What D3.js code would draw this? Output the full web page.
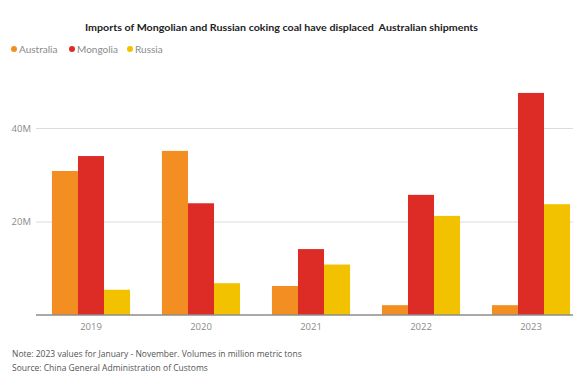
<!DOCTYPE html>
<html>
<head>
<meta charset="utf-8">
<script src="https://cdn.jsdelivr.net/npm/d3@7"></script>
<style>
  html, body { margin: 0; padding: 0; background: #fff; }
  svg { display: block; font-family: "Open Sans", sans-serif; }
</style>
</head>
<body>
<svg id="chart" width="573" height="374"></svg>
<script>
// Coking coal imports into China, million metric tons
const years = ["2019", "2020", "2021", "2022", "2023"];
const seriesNames = ["Australia", "Mongolia", "Russia"];
const australia = [30.8, 35.1, 6.2, 2.1, 2.1];
const mongolia = [34.0, 23.9, 14.1, 25.7, 47.5];
const russia = [5.4, 6.8, 10.8, 21.2, 23.7];
const yTicks = [20, 40];
const seriesColors = ["#f28e22", "#dd2c26", "#f2c100"];

const values = [australia, mongolia, russia];

const svg = d3.select("#chart");
const W = 573;

const x = d3.scaleBand()
  .domain(years)
  .range([36, 586])
  .paddingInner(0.29)
  .paddingOuter(0.145);

const xSub = d3.scaleBand()
  .domain(seriesNames)
  .range([0, x.bandwidth()]);

const y = d3.scaleLinear()
  .domain([0, 40])
  .range([315, 128]);

const color = d3.scaleOrdinal().domain(seriesNames).range(seriesColors);

// Title
const titleText = svg.append("text")
  .attr("x", 85)
  .attr("y", 31)
  .attr("font-family", "Lato, sans-serif")
  .attr("font-size", 10)
  .attr("font-weight", 700)
  .attr("fill", "#222")
  .attr("xml:space", "preserve")
  .text("Imports of Mongolian and Russian coking coal have displaced  Australian shipments");
titleText.attr("textLength", 393).attr("lengthAdjust", "spacingAndGlyphs");

// Legend
const legend = svg.append("g").attr("transform", "translate(0,49)");
const legendX = [14, 72, 130];
seriesNames.forEach((name, i) => {
  const g = legend.append("g").attr("transform", `translate(${legendX[i]},0)`);
  g.append("circle").attr("r", 3).attr("fill", color(name));
  g.append("text")
    .attr("x", 5)
    .attr("dy", "0.35em")
    .attr("font-family", "Lato, sans-serif")
    .attr("font-size", 10)
    .attr("fill", "#8a8a8a")
    .text(name);
});

// Gridlines and y labels
const yAxis = svg.append("g")
  .attr("transform", "translate(36,0)")
  .call(d3.axisRight(y).tickValues(yTicks).tickSize(W - 36).tickFormat(d => d + "M"));
yAxis.select(".domain").remove();
yAxis.selectAll(".tick line").attr("stroke", "#dcdcdc").attr("stroke-width", 1);
yAxis.selectAll(".tick text")
  .attr("x", -5)
  .attr("text-anchor", "end")
  .attr("font-size", 9.5)
  .attr("fill", "#8a8a8a")
  .attr("font-family", "Open Sans, sans-serif");

// Bars
const groups = svg.append("g")
  .selectAll("g")
  .data(years)
  .join("g")
  .attr("transform", d => `translate(${x(d)},0)`);

groups.selectAll("rect")
  .data((d, i) => seriesNames.map((s, k) => ({ s, v: values[k][i] })))
  .join("rect")
  .attr("x", d => xSub(d.s))
  .attr("width", xSub.bandwidth())
  .attr("y", d => y(d.v))
  .attr("height", d => y(0) - y(d.v))
  .attr("fill", d => color(d.s));

// Baseline and year labels
const xAxis = svg.append("g")
  .attr("transform", `translate(0,${y(0)})`)
  .call(d3.axisBottom(x).tickSize(0).tickPadding(8));
xAxis.select(".domain")
  .attr("d", `M36,0H${W}`)
  .attr("stroke", "#8c8c8c")
  .attr("stroke-width", 1.5);
xAxis.selectAll(".tick text")
  .attr("font-size", 9.5)
  .attr("fill", "#8a8a8a")
  .attr("font-family", "Open Sans, sans-serif");

// Notes
svg.append("text")
  .attr("x", 12).attr("y", 357)
  .attr("font-size", 8.5).attr("fill", "#555")
  .text("Note: 2023 values for January - November. Volumes in million metric tons");
svg.append("text")
  .attr("x", 12).attr("y", 371)
  .attr("font-size", 8.5).attr("fill", "#555")
  .text("Source: China General Administration of Customs");
</script>
</body>
</html>
